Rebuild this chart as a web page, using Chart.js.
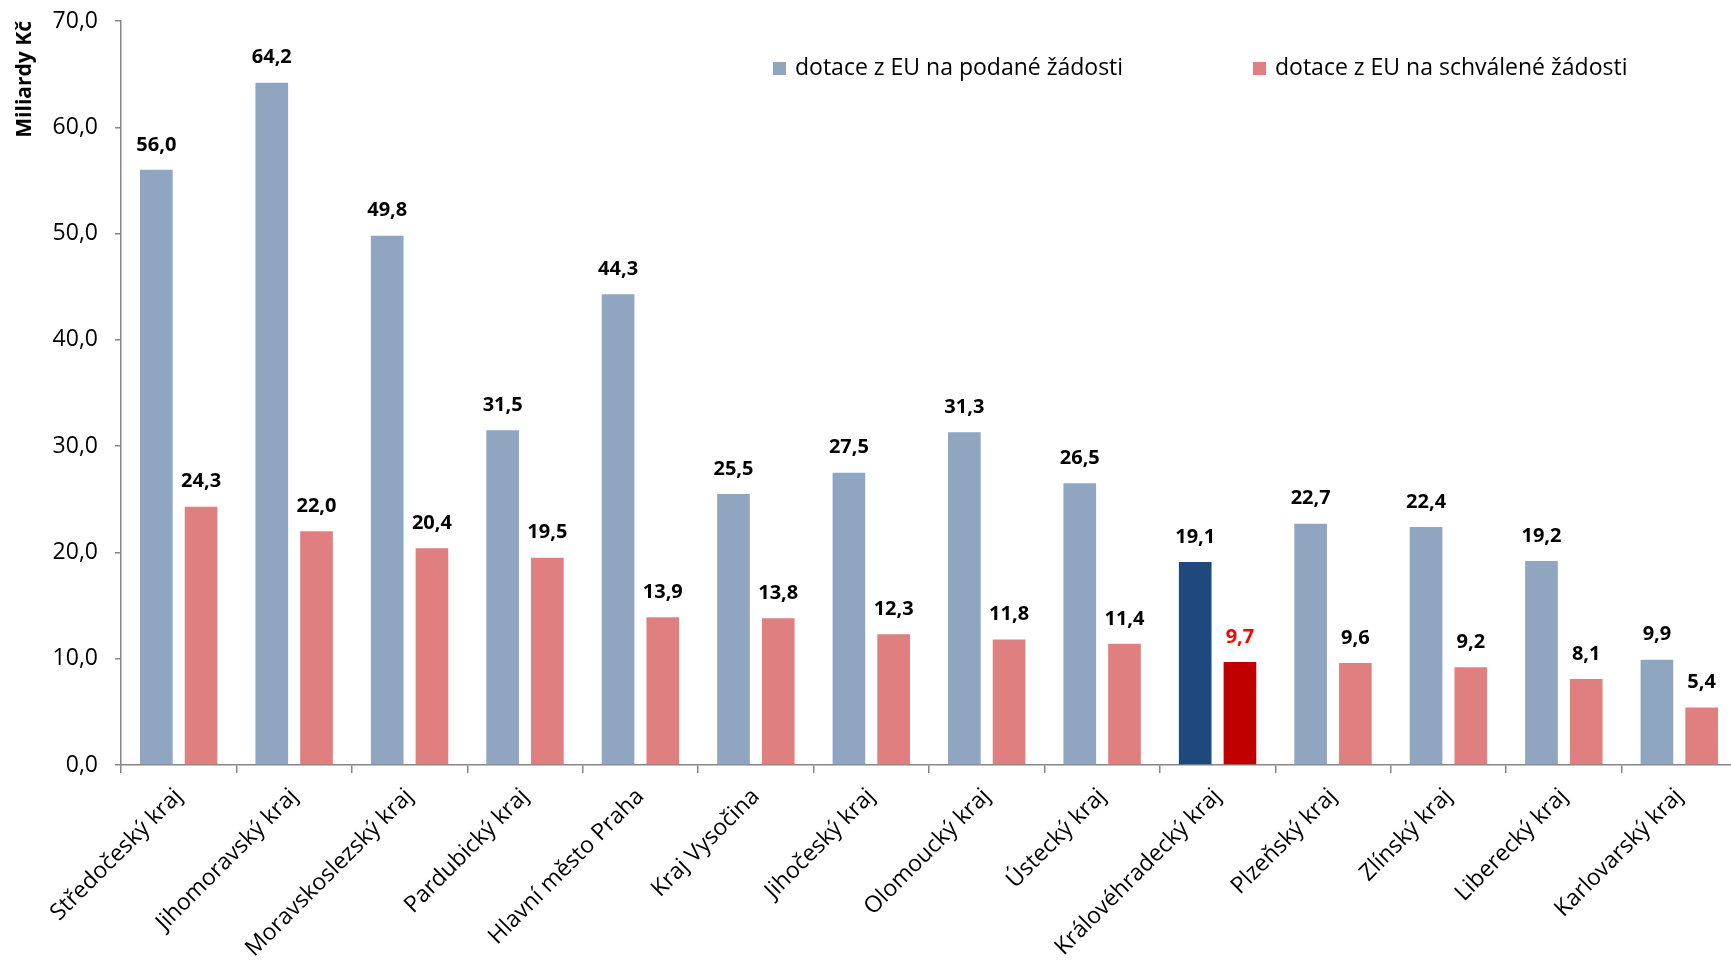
<!DOCTYPE html>
<html>
<head>
<meta charset="utf-8">
<script src="https://cdn.jsdelivr.net/npm/chart.js@4"></script>
<style>
html, body { margin: 0; padding: 0; background: #fff; overflow: hidden; }
#wrap { width: 1737px; height: 962px; position: relative; }
</style>
</head>
<body>
<div id="wrap"><canvas id="barChart"></canvas></div>
<script>
// kraje
const regions = [
    'Středočeský kraj', 'Jihomoravský kraj', 'Moravskoslezský kraj', 'Pardubický kraj',
    'Hlavní město Praha', 'Kraj Vysočina', 'Jihočeský kraj', 'Olomoucký kraj',
    'Ústecký kraj', 'Královéhradecký kraj', 'Plzeňský kraj', 'Zlínský kraj',
    'Liberecký kraj', 'Karlovarský kraj'
];
// miliardy Kč
const podane = [56.0, 64.2, 49.8, 31.5, 44.3, 25.5, 27.5, 31.3, 26.5, 19.1, 22.7, 22.4, 19.2, 9.9];
const schvalene = [24.3, 22.0, 20.4, 19.5, 13.9, 13.8, 12.3, 11.8, 11.4, 9.7, 9.6, 9.2, 8.1, 5.4];
const seriesNames = ['dotace z EU na podané žádosti', 'dotace z EU na schválené žádosti'];
const yTicks = [0, 10, 20, 30, 40, 50, 60, 70];
const highlighted = 'Královéhradecký kraj';

const FONT = '"Open Sans", "Noto Sans", sans-serif';
const fmt = v => v.toFixed(1).replace('.', ',');
const hi = regions.indexOf(highlighted);

const valueLabels = {
    id: 'valueLabels',
    afterDatasetsDraw(chart) {
        const ctx = chart.ctx;
        ctx.save();
        ctx.font = 'bold 20px ' + FONT;
        ctx.textAlign = 'center';
        ctx.textBaseline = 'middle';
        chart.data.datasets.forEach((ds, di) => {
            chart.getDatasetMeta(di).data.forEach((bar, i) => {
                ctx.fillStyle = (di === 1 && i === hi) ? '#FF0000' : '#000000';
                ctx.fillText(fmt(ds.data[i]), bar.x, bar.y - 25);
            });
        });
        ctx.restore();
    }
};

// legenda uvnitř grafu
const innerLegend = {
    id: 'innerLegend',
    afterDraw(chart) {
        const ctx = chart.ctx;
        const spots = [773, 1253];
        ctx.save();
        ctx.font = '23px ' + FONT;
        ctx.textBaseline = 'middle';
        chart.data.datasets.forEach((ds, di) => {
            ctx.fillStyle = ds.legendColor;
            ctx.fillRect(spots[di], 62, 13, 13);
            ctx.fillStyle = '#000000';
            ctx.fillText(ds.label, spots[di] + 22, 68);
        });
        ctx.restore();
    }
};

new Chart(document.getElementById('barChart'), {
    type: 'bar',
    data: {
        labels: regions,
        datasets: [
            {
                label: seriesNames[0],
                data: podane,
                legendColor: '#8FA5C0',
                backgroundColor: regions.map((r, i) => i === hi ? '#1F497D' : '#8FA5C0'),
                barPercentage: 0.73,
                categoryPercentage: 0.775
            },
            {
                label: seriesNames[1],
                data: schvalene,
                legendColor: '#DF7F7F',
                backgroundColor: regions.map((r, i) => i === hi ? '#C00000' : '#DF7F7F'),
                barPercentage: 0.73,
                categoryPercentage: 0.775
            }
        ]
    },
    options: {
        responsive: true,
        maintainAspectRatio: false,
        animation: false,
        layout: { padding: { top: 21, right: 0, left: 0, bottom: 0 } },
        plugins: {
            legend: { display: false },
            tooltip: { enabled: false }
        },
        scales: {
            x: {
                grid: { display: true, drawOnChartArea: false, drawTicks: true, tickLength: 8, color: '#868686', lineWidth: 1.5 },
                border: { color: '#868686', width: 1.5 },
                ticks: {
                    autoSkip: false,
                    maxRotation: 45,
                    minRotation: 45,
                    color: '#000000',
                    padding: 10,
                    font: { family: FONT, size: 23 }
                },
                afterFit: scale => {
                    scale.height = 197;
                    scale.paddingLeft = 0;
                    scale.paddingRight = 0;
                }
            },
            y: {
                min: 0,
                max: 70,
                afterBuildTicks: scale => { scale.ticks = yTicks.map(v => ({ value: v })); },
                grid: { display: true, drawOnChartArea: false, drawTicks: true, tickLength: 6, color: '#868686', lineWidth: 1.5 },
                border: { color: '#868686', width: 1.5 },
                ticks: {
                    color: '#000000',
                    padding: 17,
                    font: { family: FONT, size: 23 },
                    callback: v => fmt(v)
                },
                title: {
                    display: true,
                    text: 'Miliardy Kč',
                    align: 'end',
                    color: '#000000',
                    padding: { top: 12, bottom: 4 },
                    font: { family: FONT, size: 21, weight: 'bold' }
                },
                afterFit: scale => {
                    scale.width = 121;
                    scale.paddingTop = 0;
                    scale.paddingBottom = 0;
                }
            }
        }
    },
    plugins: [valueLabels, innerLegend]
});
</script>
</body>
</html>
